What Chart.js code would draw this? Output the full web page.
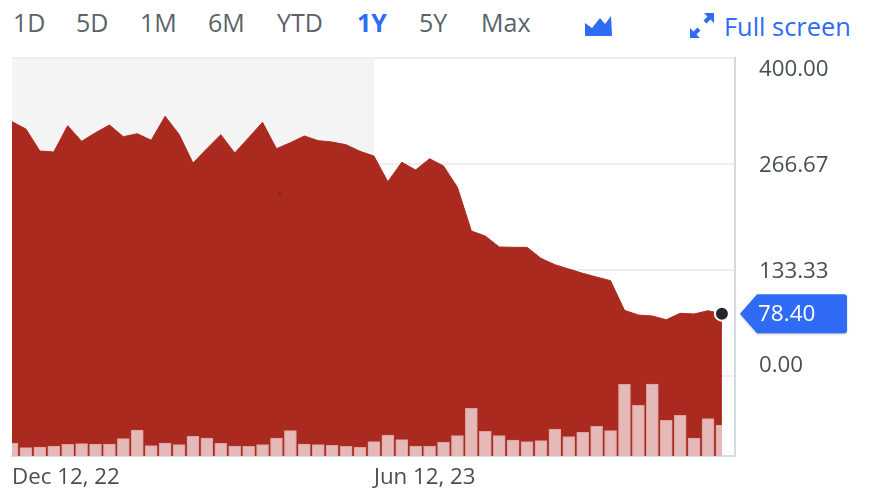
<!DOCTYPE html>
<html>
<head>
    <title>1Y price chart</title>
    <script type="text/javascript" src="https://cdn.jsdelivr.net/npm/chart.js@4"></script>
    <style>
        html, body { margin: 0; padding: 0; background: #fff; }
        #wrap { position: relative; width: 870px; height: 498px; overflow: hidden; font-family: "Open Sans", sans-serif; }
        #myChart { position: absolute; left: 0; top: 0; }
        .range { position: absolute; top: 5px; font-size: 25px; line-height: 34px; color: #5b636a; font-weight: 500; }
        .range.on { color: #2f6bf5; font-weight: 700; }
        #full { position: absolute; left: 724px; top: 9px; font-size: 25.4px; line-height: 34px; color: #2f6bf5; font-weight: 500; }
        svg { position: absolute; }
    </style>
</head>
<body>
    <div id="wrap">
        <span class="range" style="left:13px">1D</span>
        <span class="range" style="left:76px">5D</span>
        <span class="range" style="left:140px">1M</span>
        <span class="range" style="left:208px">6M</span>
        <span class="range" style="left:277px">YTD</span>
        <span class="range on" style="left:357px">1Y</span>
        <span class="range" style="left:419px">5Y</span>
        <span class="range" style="left:481px">Max</span>
        <svg style="left:585px;top:15px" width="27" height="22" viewBox="0 0 27 22">
            <path d="M0 8 L7 13 L15 3 L20 9 L26 1 L27 20 Q27 21 26 21 L1 21 Q0 21 0 20 Z" fill="#2f6bf5"/>
        </svg>
        <svg style="left:690px;top:13px" width="24" height="25" viewBox="0 0 24 25">
            <path d="M14 0 H24 V10 L20.5 6.5 L16.5 10.5 L13.5 7.5 L17.5 3.5 Z M0 15 L3.5 18.5 L7.5 14.5 L10.5 17.5 L6.5 21.5 L10 25 H0 Z" fill="#2f6bf5"/>
        </svg>
        <span id="full">Full screen</span>
        <canvas id="myChart" width="870" height="498"></canvas>
    </div>

    <script>
        var xLabels = { 0: 'Dec 12, 22', 26: 'Jun 12, 23' };
        var xTicks = [0, 26];
        var yTicks = [0, 133.33, 266.67, 400];

        // weekly closes
        var closes = [319.9, 310.7, 283.0, 281.8, 314.8, 295.2, 306.0, 315.7, 301.0, 304.8,
            296.5, 326.7, 304.0, 267.9, 285.9, 303.5, 280.5, 299.7, 319.1, 285.9,
            293.5, 301.9, 296.0, 294.3, 290.9, 282.6, 276.7, 244.4, 268.8, 259.1,
            273.3, 264.2, 237.4, 182.4, 176.1, 162.3, 161.9, 161.9, 148.0, 140.0,
            134.6, 129.2, 124.5, 119.9, 82.6, 76.7, 75.5, 70.8, 78.9, 78.0,
            82.1, 78.40];

        var volumes = [13, 8.3, 9, 10, 11.7, 12.3, 12, 12, 17.3, 26,
            10.3, 13, 11.3, 19.7, 18, 12.7, 10, 9.7, 11.3, 18,
            25.3, 12, 11.3, 10.7, 9.7, 8.7, 14.3, 21, 16.3, 10,
            10, 14, 20.3, 47.7, 24.7, 20.3, 16, 14.3, 15.3, 27,
            19.3, 23.7, 29.7, 25.3, 71.7, 50.7, 72, 35.7, 40.7, 18,
            37.3, 31];

        // the stray dark speck in the area
        var speck = [{ x: 19.25, y: 228.9 }];

        var shadeEnd = 26;
        var last = closes.length - 1;

        function toPoints(list) {
            return list.map(function (v, i) { return { x: i, y: v }; });
        }

        // grey band for the first half of the range
        var shadePlugin = {
            id: 'shade',
            beforeDraw: function (chart) {
                var a = chart.chartArea;
                var c = chart.ctx;
                c.save();
                c.fillStyle = '#f4f4f4';
                c.fillRect(a.left, a.top, chart.scales.x.getPixelForValue(shadeEnd) - a.left, a.bottom - a.top);
                c.restore();
            }
        };

        // blue price flag on the axis
        var flagPlugin = {
            id: 'flag',
            afterDraw: function (chart) {
                var y = chart.scales.y.getPixelForValue(closes[last]);
                var c = chart.ctx;
                c.save();
                c.shadowColor = 'rgba(0,0,0,0.25)';
                c.shadowBlur = 2;
                c.shadowOffsetY = 1;
                c.fillStyle = '#2f6bf5';
                c.beginPath();
                c.moveTo(740, y);
                c.lineTo(757, y - 19.5);
                c.lineTo(844, y - 19.5);
                c.quadraticCurveTo(847, y - 19.5, 847, y - 16.5);
                c.lineTo(847, y + 16.5);
                c.quadraticCurveTo(847, y + 19.5, 844, y + 19.5);
                c.lineTo(757, y + 19.5);
                c.closePath();
                c.fill();
                c.restore();
                c.save();
                c.fillStyle = '#ffffff';
                c.font = '500 22.5px "Open Sans"';
                c.textBaseline = 'middle';
                c.fillText(closes[last].toFixed(2), 758, y + 1);
                c.restore();
            }
        };

        var ctx = document.getElementById("myChart").getContext("2d");

        var myChart = new Chart(ctx, {
            data: {
                datasets: [{
                    type: 'scatter',
                    data: speck,
                    yAxisID: 'y',
                    pointStyle: 'rect',
                    pointRadius: 1,
                    backgroundColor: '#222222',
                    borderWidth: 0,
                    order: 0
                }, {
                    type: 'bar',
                    data: toPoints(volumes),
                    yAxisID: 'vol',
                    backgroundColor: '#e4b9b8',
                    borderColor: '#d9a29e',
                    borderWidth: 1,
                    barThickness: 12,
                    clip: { left: 0, top: 0, right: -13, bottom: 0 },
                    order: 1
                }, {
                    type: 'line',
                    data: toPoints(closes),
                    yAxisID: 'y',
                    borderColor: '#ab2a1f',
                    backgroundColor: '#ab2a1f',
                    borderWidth: 1,
                    tension: 0,
                    fill: 'start',
                    pointRadius: function (c) { return c.dataIndex === last ? 7 : 0; },
                    pointBackgroundColor: '#24272b',
                    pointBorderColor: '#ffffff',
                    pointBorderWidth: 2,
                    order: 2
                }]
            },
            options: {
                responsive: false,
                animation: false,
                layout: { padding: { left: 12, top: 58, right: 0, bottom: 0 } },
                plugins: { legend: { display: false }, tooltip: { enabled: false } },
                scales: {
                    x: {
                        type: 'linear',
                        min: 0,
                        max: 51.94,
                        offset: false,
                        afterBuildTicks: function (axis) {
                            axis.ticks = xTicks.map(function (v) { return { value: v }; });
                        },
                        afterFit: function (axis) { axis.height = 42; },
                        grid: { display: false, drawTicks: false },
                        border: { color: '#d5dae0', width: 2 },
                        ticks: {
                            autoSkip: false,
                            maxRotation: 0,
                            align: 'start',
                            padding: 8,
                            color: '#464e56',
                            font: { family: 'Open Sans', size: 22.3, weight: '500' },
                            callback: function (v) { return xLabels[v]; }
                        }
                    },
                    y: {
                        position: 'right',
                        min: -100.6,
                        max: 400,
                        afterBuildTicks: function (axis) {
                            axis.ticks = yTicks.map(function (v) { return { value: v }; });
                        },
                        afterFit: function (axis) {
                            axis.width = 135;
                            axis.paddingTop = 0;
                            axis.paddingBottom = 0;
                        },
                        grid: { color: '#eeeeee', lineWidth: 2, drawTicks: false },
                        border: { color: '#d5dae0', width: 2 },
                        ticks: {
                            padding: 24,
                            labelOffset: 2,
                            color: '#464e56',
                            // end labels sit inside the range, pushed by an empty line
                            font: function (c) {
                                var lh = c.index === 3 ? '20px' : '24px';
                                return { family: 'Open Sans', size: 22.3, weight: '500', lineHeight: lh };
                            },
                            callback: function (v) {
                                var s = v.toFixed(2);
                                if (v === 400) return ['', s];
                                if (v === 0) return [s, ''];
                                return s;
                            }
                        }
                    },
                    vol: {
                        display: false,
                        min: 0,
                        max: 398
                    }
                }
            },
            plugins: [shadePlugin, flagPlugin]
        });
    </script>
</body>
</html>
